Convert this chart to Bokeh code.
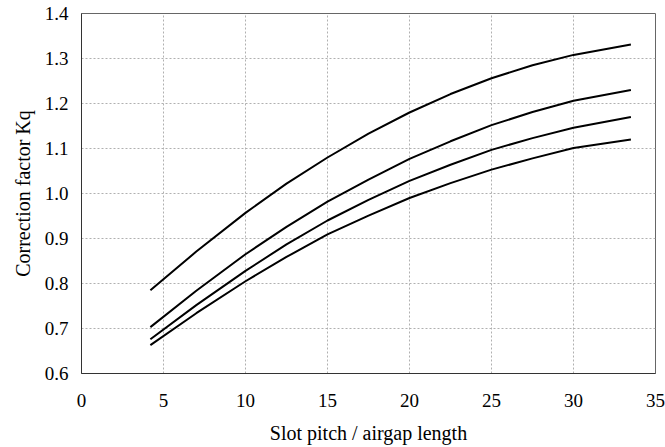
from bokeh.plotting import figure
from bokeh.models import Range1d, FixedTicker, NumeralTickFormatter
from bokeh.embed import file_html
from bokeh.resources import INLINE

# Data
x_vals = [4.2, 7.0, 10.0, 12.5, 15.0, 17.5, 20.0, 22.5, 25.0, 27.5, 30.0, 33.5]
curve_1 = [0.785, 0.871, 0.957, 1.022, 1.080, 1.133, 1.180, 1.221, 1.256, 1.285, 1.308, 1.331]
curve_2 = [0.703, 0.784, 0.865, 0.926, 0.982, 1.031, 1.077, 1.116, 1.152, 1.181, 1.206, 1.230]
curve_3 = [0.676, 0.752, 0.828, 0.887, 0.940, 0.986, 1.028, 1.064, 1.097, 1.123, 1.146, 1.170]
curve_4 = [0.663, 0.734, 0.805, 0.859, 0.909, 0.951, 0.990, 1.023, 1.053, 1.078, 1.101, 1.120]

x_ticks = [0, 5, 10, 15, 20, 25, 30, 35]
y_ticks = [0.6, 0.7, 0.8, 0.9, 1.0, 1.1, 1.2, 1.3, 1.4]

FONT = "Liberation Serif"

p = figure(width=665, height=447, output_backend="svg", toolbar_location=None,
           x_range=Range1d(0, 35), y_range=Range1d(0.6, 1.4),
           min_border_left=81, min_border_right=10, min_border_top=13, min_border_bottom=74)
p.background_fill_color = "white"
p.border_fill_color = "white"
p.outline_line_color = "#666666"
p.outline_line_width = 1

for ys in (curve_1, curve_2, curve_3, curve_4):
    p.line(x_vals, ys, line_color="black", line_width=2, line_join="round")

p.xaxis.ticker = FixedTicker(ticks=x_ticks)
p.yaxis.ticker = FixedTicker(ticks=y_ticks)
p.yaxis.formatter = NumeralTickFormatter(format="0.0")

for ax in (p.xaxis[0], p.yaxis[0]):
    ax.axis_line_color = "#333333"
    ax.axis_line_width = 1
    ax.major_tick_out = 0
    ax.major_tick_in = 0
    ax.minor_tick_out = 0
    ax.minor_tick_in = 0
    ax.major_label_text_font = FONT
    ax.major_label_text_font_size = "19px"
    ax.major_label_text_color = "black"
    ax.axis_label_text_font = FONT
    ax.axis_label_text_font_size = "20px"
    ax.axis_label_text_font_style = "normal"
    ax.axis_label_text_color = "black"

p.xaxis.axis_label = "Slot pitch / airgap length"
p.yaxis.axis_label = "Correction factor Kq"
p.xaxis.major_label_standoff = 20
p.xaxis.axis_label_standoff = 12
p.yaxis.major_label_standoff = 13
p.yaxis.axis_label_standoff = 8

p.grid.grid_line_color = "#b0b0b0"
p.grid.grid_line_dash = "2 2"
p.grid.grid_line_width = 1

open("out.html", "w").write(file_html(p, INLINE))
